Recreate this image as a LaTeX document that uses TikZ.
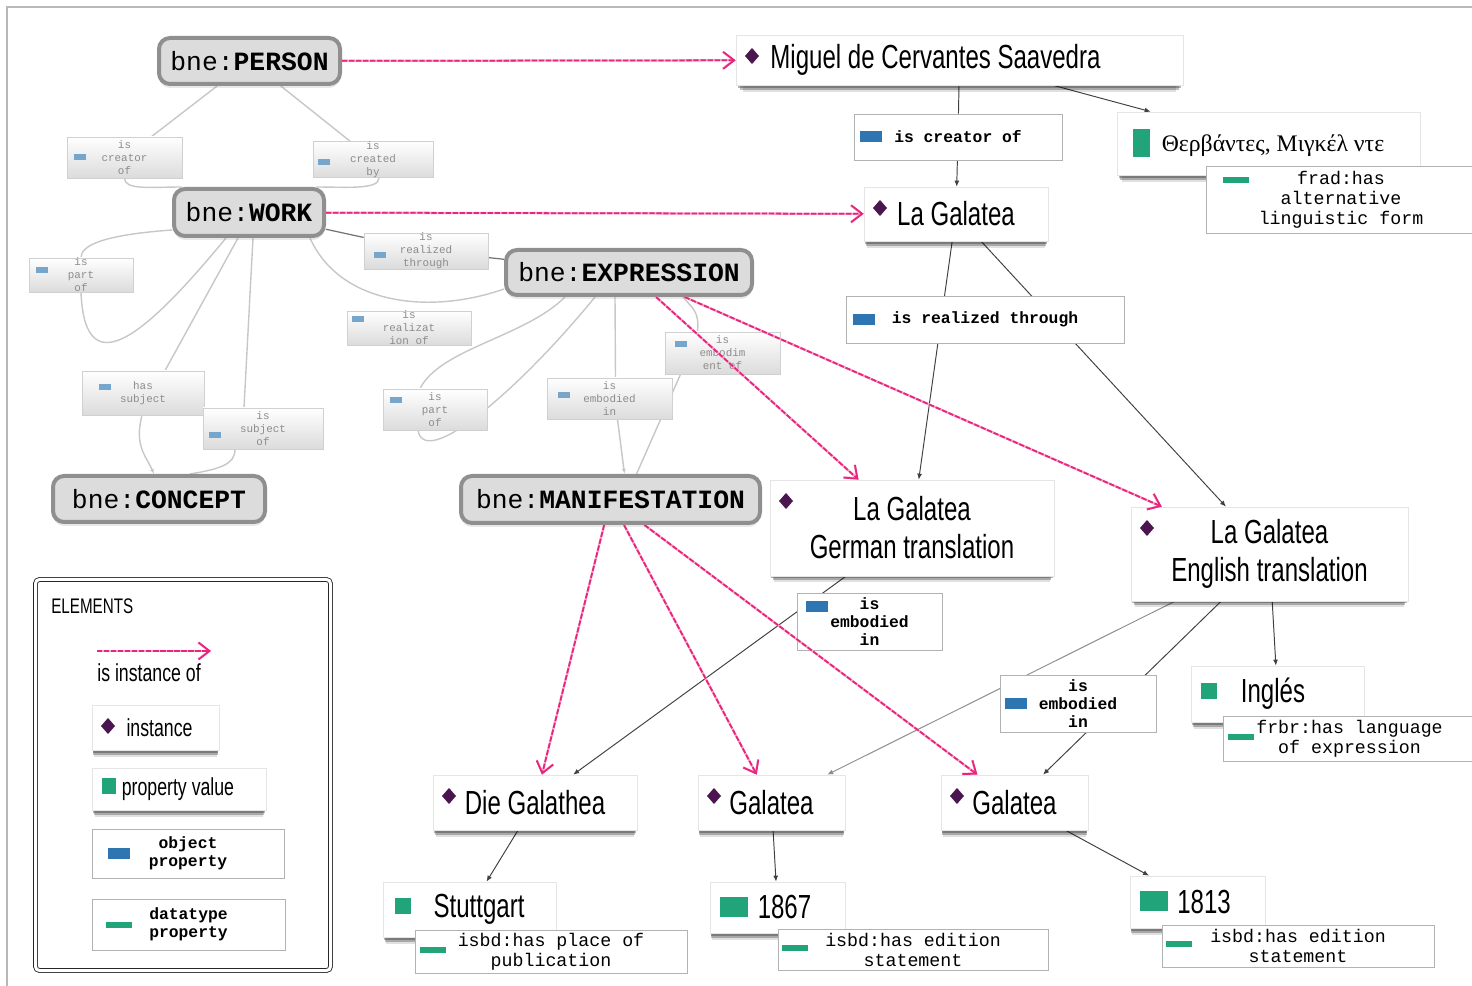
\documentclass[tikz,border=0pt]{standalone}
\usepackage{fontspec}
\setmainfont{Liberation Sans}
\setmonofont{Liberation Mono}
\newfontfamily\narrowfont[FakeStretch=0.72]{Liberation Sans}
\newfontfamily\greekfont{Liberation Serif}
\usetikzlibrary{arrows.meta,positioning,calc,shadows}
\definecolor{isapink}{HTML}{E8247C}
\definecolor{instpurple}{HTML}{4B1650}
\definecolor{objblue}{HTML}{2E76B2}
\definecolor{dtgreen}{HTML}{21A47A}
\definecolor{clsfill}{HTML}{DCDCDC}
\definecolor{clsedge}{HTML}{8F8F8F}
\definecolor{fadeedge}{HTML}{D0D0D0}
\definecolor{fadetext}{HTML}{8C8C8C}
\newlength\pxu
\setlength\pxu{0.2mm}
\newcommand\instfont{\narrowfont\fontsize{19pt}{21.6pt}\selectfont}
\newcommand\legfont{\narrowfont\fontsize{14pt}{16pt}\selectfont}
\newcommand\clsfont{\ttfamily\fontsize{15pt}{17pt}\selectfont}
\newcommand\opfont{\ttfamily\bfseries\fontsize{9.3pt}{10.2pt}\selectfont}
\newcommand\dpfont{\ttfamily\fontsize{10.4pt}{11.4pt}\selectfont}
\newcommand\fadefont{\ttfamily\fontsize{6.2pt}{7.4pt}\selectfont}
\newcommand\pvsq[3]{{\color{dtgreen}\rule[#3\pxu]{#1\pxu}{#2\pxu}}}
\newcommand\bne[1]{bne:\textbf{#1}}
\pgfdeclarelayer{background}
\pgfsetlayers{background,main}

\begin{document}
\begin{tikzpicture}[x=0.2mm,y=-0.2mm,
  boxshadow/.style={
    drop shadow={shadow xshift=0pt,shadow yshift=-1.6mm,shadow scale=0.97,opacity=0.12,fill=black},
    drop shadow={shadow xshift=0pt,shadow yshift=-1.1mm,shadow scale=0.98,opacity=0.25,fill=black},
    drop shadow={shadow xshift=0pt,shadow yshift=-0.6mm,shadow scale=0.99,opacity=0.35,fill=black!85}},
  cls/.style={draw=clsedge,fill=clsfill,line width=0.8mm,rounded corners=2.2mm,
    inner sep=0pt,font=\clsfont,
    drop shadow={opacity=0.18,shadow xshift=0pt,shadow yshift=-0.8mm}},
  inst/.style={draw=black!10,fill=white,inner sep=0pt,align=center,font=\instfont,boxshadow,
    path picture={\fill[instpurple] ($(path picture bounding box.north west)+(16,13)$)
      -- ++(7,8) -- ++(-7,8) -- ++(-7,-8) -- cycle;}},
  pval/.style={draw=black!10,fill=white,inner sep=0pt,align=center,font=\instfont,boxshadow},
  oprop/.style 2 args={draw=black!30,fill=white,inner sep=0pt,align=center,font=\opfont,
    path picture={\fill[objblue] ($(path picture bounding box.west)+(#1,#2-5.5)$) rectangle ++(22,11);}},
  dprop/.style 2 args={draw=black!30,fill=white,inner sep=0pt,align=center,font=\dpfont,
    path picture={\fill[dtgreen] ($(path picture bounding box.west)+(#1,#2-3)$) rectangle ++(26,6);}},
  fprop/.style 2 args={draw=fadeedge,top color=white,bottom color=black!14,inner sep=0pt,
    align=center,font=\fadefont,text=fadetext,
    path picture={\fill[objblue!65] ($(path picture bounding box.west)+(#1,#2-3)$) rectangle ++(12,6);}},
  isa/.style={draw=isapink,line width=1pt,dash pattern=on 3pt off 1pt,
    preaction={draw=isapink!40,line width=1.3pt,solid},
    -{Straight Barb[length=2.2mm,width=3.4mm]}},
  rel/.style={draw=black!75,line width=0.55pt,-{Latex[length=1.2mm,width=1mm]}},
  relline/.style={draw=black!75,line width=0.55pt},
  schema/.style={draw=black!22,line width=0.8pt},
  schemadark/.style={draw=black!55,line width=0.7pt}]
\useasboundingbox (0,0) rectangle (1472,986);
\draw[black!28,line width=0.3mm] (7,986) -- (7,7) -- (1472,7);

% class nodes
\node[cls,minimum width=181\pxu,minimum height=46\pxu] (person) at (249.5,61) {\bne{PERSON}};
\node[cls,minimum width=150\pxu,minimum height=47\pxu] (work) at (249,212.5) {\bne{WORK}};
\node[cls,minimum width=246\pxu,minimum height=45\pxu] (expr) at (629,272.5) {\bne{EXPRESSION}};
\node[cls,minimum width=212\pxu,minimum height=46\pxu] (concept) at (159,499) {\bne{CONCEPT}};
\node[cls,minimum width=299\pxu,minimum height=47\pxu] (manif) at (610.5,499.5) {\bne{MANIFESTATION}};

% faded schema properties
\foreach \nm/\cx/\cy/\bw/\bh/\ix/\iy/\txt in {
  fcre/124.5/157.5/115/41/7/0/{is\\creator\\of},
  fcby/373/159.5/120/33/5/3/{is\\created\\by},
  fpof/81/275/104/34/7/-5/{is\\part\\of},
  frth/426/251/124/36/10/4/{is\\realized\\through},
  frof/409/328/124/34/5/-9/{is\\realizat\\ion of},
  fhs/143/393/122/44/17/-6/{has\\subject},
  fiso/263/428.5/120/41/6/6.5/{is\\subject\\of},
  fpoe/435/409.5/104/41/7/-9.5/{is\\part\\of},
  febi/609.5/398.5/125/41/11/-3/{is\\embodied\\in},
  feof/722.5/353/115/42/10/-8.5/{is\\embodim\\ent of}}
  \node[fprop={\ix}{\iy},minimum width=\bw\pxu,minimum height=\bh\pxu] (\nm) at (\cx,\cy) {\txt};

% object properties
\node[oprop={6}{0},minimum width=208\pxu,minimum height=46\pxu] (creof) at (958,137) {is creator of};
\node[oprop={7}{0},minimum width=278\pxu,minimum height=47\pxu] (realth) at (985,319.5) {is realized through};
\node[oprop={9}{-15},minimum width=145\pxu,minimum height=57\pxu] (embA) at (869.5,621.5) {is\\embodied\\in};
\node[oprop={5}{0},minimum width=156\pxu,minimum height=57\pxu] (embB) at (1078,703.5) {is\\embodied\\in};

% instances
\node[inst,minimum width=447\pxu,minimum height=50\pxu] (miguel) at (959.5,60) {Miguel de Cervantes Saavedra\hspace*{48\pxu}};
\node[inst,minimum width=184\pxu,minimum height=54\pxu] (lagal) at (956,214) {La Galatea};
\node[inst,minimum width=284\pxu,minimum height=96\pxu] (german) at (912,528) {La Galatea\\German translation};
\node[inst,minimum width=277\pxu,minimum height=94\pxu] (english) at (1269.5,554) {La Galatea\\English translation};
\node[inst,minimum width=204\pxu,minimum height=55\pxu] (diegal) at (535,802.5) {Die Galathea};
\node[inst,minimum width=147\pxu,minimum height=55\pxu] (galA) at (771.5,802.5) {Galatea};
\node[inst,minimum width=147\pxu,minimum height=55\pxu] (galB) at (1014.5,802.5) {Galatea};

% property values
\node[pval,minimum width=303\pxu,minimum height=63\pxu] (greek) at (1268.5,143.5)
  {\pvsq{17}{28}{-6}\hspace{12\pxu}{\greekfont\fontsize{13.5pt}{15pt}\selectfont Θερβάντες, Μιγκέλ ντε}\hspace*{20\pxu}};
\node[pval,minimum width=173\pxu,minimum height=56\pxu] (ingles) at (1277.5,694) {\pvsq{16}{16}{4}\hspace{24\pxu}Inglés\hspace*{49\pxu}};
\node[pval,minimum width=173\pxu,minimum height=55\pxu] (stutt) at (469.5,909.5) {\pvsq{16}{16}{4}\hspace{23\pxu}Stuttgart\hspace*{20\pxu}};
\node[pval,minimum width=135\pxu,minimum height=51\pxu] (yr1867) at (777.5,907.5) {\pvsq{28}{20}{2}\hspace{10\pxu}1867\hspace*{24\pxu}};
\node[pval,minimum width=135\pxu,minimum height=52\pxu] (yr1813) at (1197.5,902) {\pvsq{28}{20}{2}\hspace{9\pxu}1813\hspace*{24\pxu}};

% datatype properties
\node[dprop={17}{-19.5},minimum width=270\pxu,minimum height=67\pxu] (altform) at (1341,199.5) {frad:has\\alternative\\linguistic form};
\node[dprop={5}{-1.5},minimum width=253\pxu,minimum height=45\pxu] (langexp) at (1349.5,738.5) {frbr:has language\\of expression};
\node[dprop={5}{-1.5},minimum width=272\pxu,minimum height=43\pxu] (placepub) at (551,951.5) {isbd:has place of\\publication};
\node[dprop={4}{-1.5},minimum width=270\pxu,minimum height=41\pxu] (edA) at (913,949.5) {isbd:has edition\\statement};
\node[dprop={4}{-2},minimum width=272\pxu,minimum height=42\pxu] (edB) at (1298,946) {isbd:has edition\\statement};

% legend
\node[draw=black!85,double=white,double distance=3\pxu,line width=0.5pt,rounded corners=0.8mm,
  minimum width=295\pxu,minimum height=391\pxu] (legend) at (183,775) {};
\node[font=\narrowfont\fontsize{12pt}{14pt}\selectfont,anchor=west,inner sep=0pt] (lgtitle) at (51,606) {ELEMENTS};
\coordinate (lgA) at (97,651);
\coordinate (lgB) at (211,651);
\node[font=\legfont,anchor=west,inner sep=0pt] (lgisa) at (97,673) {is instance of};
\node[inst,font=\legfont,minimum width=127\pxu,minimum height=45\pxu] (lginst) at (155.5,727.5) {\hspace*{8\pxu}instance};
\node[pval,font=\legfont,minimum width=174\pxu,minimum height=42\pxu] (lgpval) at (179,789) {\pvsq{14}{16}{1}\hspace{6\pxu}property value\hspace*{22\pxu}};
\node[oprop={16}{0},minimum width=192\pxu,minimum height=49\pxu] (lgobj) at (188,853.5) {object\\property};
\node[dprop={14}{0},font=\opfont,minimum width=193\pxu,minimum height=51\pxu] (lgdt) at (188.5,924.5) {datatype\\property};

% is instance of
\draw[isa] (person) -- (miguel);
\draw[isa] (work) -- (lagal);
\draw[isa] (expr) -- (german);
\draw[isa] (expr) -- (english);
\draw[isa] (manif) -- (diegal);
\draw[isa] (manif) -- (galA);
\draw[isa] (manif) -- (galB);
\draw[isa] (lgA) -- (lgB);

\begin{pgfonlayer}{background}
% instance relations
\draw[relline] (miguel) -- (creof);
\draw[rel] (creof) -- (lagal);
\draw[rel] (miguel) -- (greek);
\draw[rel] (lagal) -- (german);
\draw[rel] (lagal) -- (english);
\draw[rel] (german) -- (diegal);
\draw[rel,draw=black!45] (english) -- (galA);
\draw[rel] (english) -- (galB);
\draw[rel] (english) -- (ingles);
\draw[rel] (diegal) -- (stutt);
\draw[rel] (galA) -- (yr1867);
\draw[rel] (galB) -- (yr1813);
% schema
\draw[schema] (person) -- (fcre);
\draw[schema] (fcre.south) .. controls +(0,12) and +(-30,0) .. ($(work.north west)+(10,0)$);
\draw[schema] (person) -- (fcby);
\draw[schema] ($(fcby.south)+(6,0)$) .. controls +(0,12) and +(30,0) .. ($(work.north east)+(-10,0)$);
\draw[schema] ($(work.south west)+(0,-8)$) .. controls +(-70,5) and +(0,-12) .. (fpof.north);
\draw[schema] (fpof.south) .. controls +(4,98) and +(-76,92) .. ($(work.south west)+(54,0)$);
\draw[schemadark] (work) -- (frth);
\draw[schemadark] (frth) -- (expr);
\draw[schema] ($(work.south east)+(-16,0)$) .. controls +(30,67) and +(-74,26) .. ($(expr.south west)+(0,-8)$);
\draw[schema] ($(work.south)+(-11,0)$) -- ($(fhs.north)+(22,0)$);
\draw[schema,-{Latex[length=1mm,width=0.8mm]}] ($(fhs.south)+(-1,0)$) .. controls +(-8,30) and +(-8,-18) .. ($(concept.north)+(-5,0)$);
\draw[schema] ($(concept.north)+(31,0)$) .. controls +(30,-5) and +(0,15) .. ($(fiso.south)+(-28,0)$);
\draw[schema] ($(fiso.north)+(-19,0)$) -- ($(work.south)+(4,0)$);
\draw[schema] ($(expr.south)+(-64,0)$) .. controls +(-40,40) and +(20,-40) .. ($(fpoe.north)+(-15,0)$);
\draw[schema] ($(fpoe.south)+(-17,0)$) .. controls +(7,40) and +(-75,92) .. ($(expr.south)+(-34,0)$);
\draw[schema] ($(expr.south)+(-14,0)$) -- ($(febi.north)+(6,0)$);
\draw[schema,-{Latex[length=1mm,width=0.8mm]}] ($(febi.south)+(8,0)$) -- ($(manif.north)+(14,0)$);
\draw[schema] ($(manif.north)+(26,0)$) -- ($(feof.south)+(-42,0)$);
\draw[schema] ($(feof.north)+(-25,0)$) .. controls +(2,-20) and +(10,12) .. ($(expr.south)+(54,0)$);
\end{pgfonlayer}
\end{tikzpicture}
\end{document}
